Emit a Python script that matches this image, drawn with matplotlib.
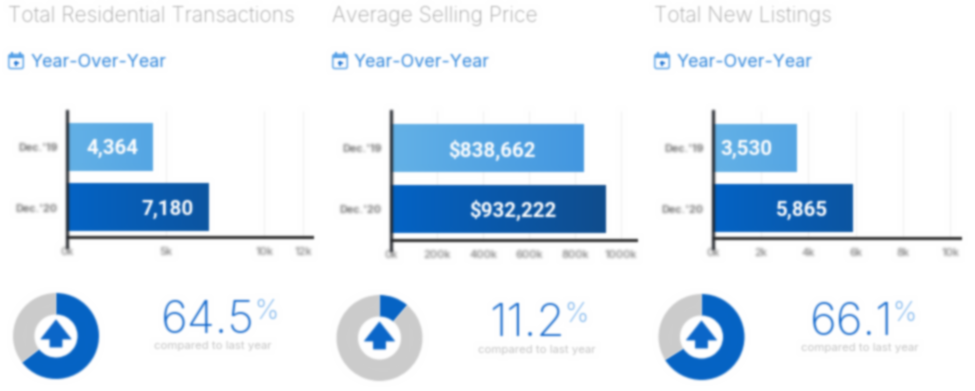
import numpy as np
import matplotlib
matplotlib.use("Agg")
import matplotlib.pyplot as plt
from matplotlib.colors import LinearSegmentedColormap
from matplotlib.patches import FancyBboxPatch, Polygon, Rectangle

# data
titles = ["Total Residential Transactions", "Average Selling Price", "Total New Listings"]
periods = ["Dec.'19", "Dec.'20"]
values_19 = [4364, 838662, 3530]
values_20 = [7180, 932222, 5865]
labels_19 = ["4,364", "$838,662", "3,530"]
labels_20 = ["7,180", "$932,222", "5,865"]
ticks_1 = [0, 5000, 10000, 12000]
ticks_2 = [0, 200000, 400000, 600000, 800000, 1000000]
ticks_3 = [0, 2000, 4000, 6000, 8000, 10000]
tick_labels_1 = ["0k", "5k", "10k", "12k"]
tick_labels_2 = ["0k", "200k", "400k", "600k", "800k", "1000k"]
tick_labels_3 = ["0k", "2k", "4k", "6k", "8k", "10k"]
pct_change = [64.5, 11.2, 66.1]
pct_labels = ["64.5", "11.2", "66.1"]

# layout, in pixels of the 975x391 picture
W, H = 975, 391
AX_LEFT = [67, 391, 713]
AX_RIGHT = [314, 638, 962]
AX_BASE = [237, 240, 238]
PX_PER_UNIT = [98.5/5000, 229.7/1000000, 237.5/10000]
BAR_Y = [(147, 207.5), (148.5, 209), (148, 208.5)]
LABEL_X = [(112, 167), (492, 513), (746, 802)]
TITLE_X = [8, 332, 654]
YOY_X = [31, 354, 677]
ICON_X = [8, 332, 654]
DONUT = [(56, 336), (379.5, 338), (701.5, 337)]
PCT_X = [(207, 255), (530, 565), (853, 893)]
PCT_Y = [333, 336, 335]
CMP = [(213, 346), (537, 350), (860, 348)]

LIGHT = LinearSegmentedColormap.from_list("light", ["#64B2E7", "#3A90DE"])
DARK = LinearSegmentedColormap.from_list("dark", ["#0464C6", "#124A85"])
BLUE = "#0563C4"
TEXT_BLUE = "#2F86DC"
UI = ["Inter", "Open Sans", "DejaVu Sans"]


def blur(img, dpi, sigma=0.75):
    # the reference is a soft upscaled picture
    pad = 4
    img = np.pad(img, ((pad, pad), (pad, pad), (0, 0)))
    kx = np.arange(-pad, pad+1)
    k = np.exp(-kx**2/(2*sigma**2))
    k = k/k.sum()
    a = img[:, :, 3]
    stack = np.dstack([img[:, :, 0]*a, img[:, :, 1]*a, img[:, :, 2]*a, a])
    for c in range(4):
        stack[:, :, c] = np.apply_along_axis(lambda m: np.convolve(m, k, mode="same"), 0, stack[:, :, c])
        stack[:, :, c] = np.apply_along_axis(lambda m: np.convolve(m, k, mode="same"), 1, stack[:, :, c])
    al = np.clip(stack[:, :, 3], 1e-4, 1)
    res = np.dstack([stack[:, :, 0]/al, stack[:, :, 1]/al, stack[:, :, 2]/al, stack[:, :, 3]])
    return np.clip(res, 0, 1), -pad, -pad


def px_axes(fig, left, top, right, bottom, **kw):
    return fig.add_axes([left/W, 1-bottom/H, (right-left)/W, (bottom-top)/H], **kw)


def draw_panel(fig, i, ticks, tick_labels):
    left, right, base = AX_LEFT[i], AX_RIGHT[i], AX_BASE[i]
    top, bottom = 111, base+10
    ax = px_axes(fig, left, top, right, bottom)
    ax.patch.set_visible(False)
    xmax = (right-left)/PX_PER_UNIT[i]
    ax.set_xlim(0, xmax)
    ax.set_ylim(bottom, top)  # y runs in pixels, bars sit on their row centre

    ax.vlines(ticks[1:], top, base, color="#f0f0f0", lw=0.8, zorder=1)
    for v, y, cmap in zip([values_19[i], values_20[i]], BAR_Y[i], [LIGHT, DARK]):
        grad = np.linspace(0, v/xmax, 256)[None, :]
        ax.imshow(grad, extent=(0, v, y+24, y-24), cmap=cmap, vmin=0, vmax=1,
                  aspect="auto", zorder=2)
    ax.set_xlim(0, xmax)
    ax.set_ylim(bottom, top)
    ax.axhline(base, color="#333333", lw=2.3, zorder=3)

    for s in ["top", "right", "bottom"]:
        ax.spines[s].set_visible(False)
    ax.spines["left"].set_linewidth(2.2)
    ax.spines["left"].set_color("#22252b")
    ax.spines["left"].set_zorder(4)
    ax.set_xticks(ticks)
    ax.set_xticklabels(tick_labels, fontsize=8, color="#7c7c7c", family=UI, fontweight="medium")
    ax.set_yticks(BAR_Y[i])
    ax.set_yticklabels(periods, fontsize=7.8, color="#777777", family=UI, fontweight="bold")
    ax.tick_params(axis="x", length=0, pad=0)
    ax.tick_params(axis="y", length=0, pad=7)
    return ax


def draw_donut(fig, i):
    cx, cy = DONUT[i]
    r = 43
    ax = px_axes(fig, cx-r, cy-r, cx+r, cy+r)
    p = pct_change[i]
    ax.pie([p, 100-p], colors=[BLUE, "#cccccc"], startangle=90, counterclock=False,
           radius=1, wedgeprops={"width": 0.5, "linewidth": 0})
    ax.set_xlim(-1, 1)
    ax.set_ylim(-1, 1)
    return ax


def draw_icon(over, x):
    c = "#4a9ae6"
    over.add_patch(FancyBboxPatch((x+0.8, 54.5), 14.5, 14, boxstyle="round,pad=0,rounding_size=2",
                                  fc="none", ec=c, lw=1.0))
    over.add_patch(Rectangle((x+0.8, 54.5), 14.5, 3, fc=c, ec="none"))
    over.add_patch(Rectangle((x+3, 52), 2, 3.5, fc=c, ec="none"))
    over.add_patch(Rectangle((x+11, 52), 2, 3.5, fc=c, ec="none"))
    over.add_patch(Rectangle((x+5.5, 62.4), 5, 1.2, fc="#1f74d3", ec="none"))
    over.add_patch(Rectangle((x+7.4, 60.5), 1.2, 5, fc="#1f74d3", ec="none"))


fig = plt.figure(figsize=(W/100, H/100), dpi=100, facecolor="white")

for i, (tk, tl) in enumerate(zip([ticks_1, ticks_2, ticks_3], [tick_labels_1, tick_labels_2, tick_labels_3])):
    draw_panel(fig, i, tk, tl)
    draw_donut(fig, i)

over = fig.add_axes([0, 0, 1, 1])
over.set_xlim(0, W)
over.set_ylim(H, 0)
over.axis("off")
over.patch.set_visible(False)

for i in range(3):
    over.text(TITLE_X[i], 16, titles[i], fontsize=15.2, color="#a4a4a4", family=UI, fontweight="light",
              ha="left", va="center")
    draw_icon(over, ICON_X[i])
    over.text(YOY_X[i], 62.5, "Year-Over-Year", fontsize=12.9, color=TEXT_BLUE, family=UI,
              ha="left", va="center")
    for x, y, s in zip(LABEL_X[i], BAR_Y[i], [labels_19[i], labels_20[i]]):
        over.text(x, y+1.5, s, fontsize=14.8, color="white", family="Roboto", fontweight="bold",
                  ha="center", va="center", zorder=6)
    # up arrow in the donut hole
    cx, cy = DONUT[i]
    over.add_patch(Polygon([(cx, cy-16), (cx+15, cy+3), (cx+6, cy+3), (cx+6, cy+11),
                            (cx-6, cy+11), (cx-6, cy+3), (cx-15, cy+3)],
                           closed=True, fc="#0b66c9", ec="#0b66c9", lw=0.6, joinstyle="round"))
    over.text(PCT_X[i][1], PCT_Y[i], pct_labels[i], fontsize=33, color="#0f66cc", family=UI, fontweight="light",
              ha="right", va="baseline")
    over.text(PCT_X[i][1]-1, PCT_Y[i]-34, "%", fontsize=19.5, color="#6aaaea", family=UI, fontweight="light",
              ha="left", va="top")
    over.text(CMP[i][0], CMP[i][1], "compared to last year", fontsize=8.2, color="#c4c4c4", family=UI,
              ha="center", va="center")

fig.canvas.draw()
for art in fig.findobj():
    if art is fig.patch or isinstance(art, plt.Axes):
        continue
    if isinstance(art, matplotlib.artist.Artist) and hasattr(art, "set_agg_filter"):
        if art.get_figure() is not None and art not in [a.patch for a in fig.axes]:
            art.set_agg_filter(blur)

fig.savefig("out.png", dpi=100, facecolor="white")
